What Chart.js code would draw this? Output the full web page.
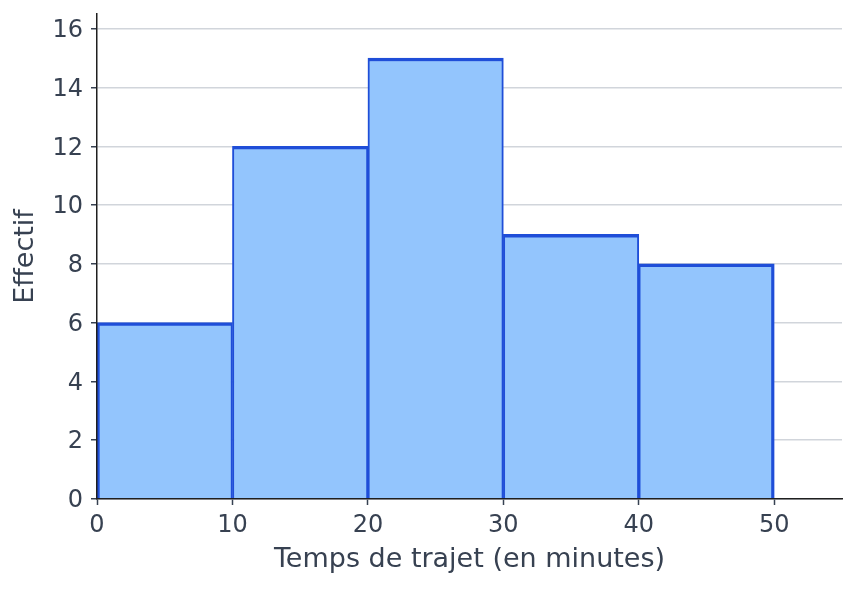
<!DOCTYPE html>
<html>
<head>
<meta charset="utf-8">
<script src="https://cdn.jsdelivr.net/npm/chart.js@4.4.1/dist/chart.umd.min.js"></script>
<style>
html,body{margin:0;padding:0;background:#fff;}
#wrap{width:856px;height:590px;}
</style>
</head>
<body>
<div id="wrap"><canvas id="c" width="856" height="590"></canvas></div>
<script>
const binEdges = [0, 10, 20, 30, 40, 50];
const categories = ['0–10', '10–20', '20–30', '30–40', '40–50'];
const counts = [6, 12, 15, 9, 8];
const xTicks = [0, 10, 20, 30, 40, 50];
const yTicks = [0, 2, 4, 6, 8, 10, 12, 14, 16];

const points = counts.map((v, i) => ({ x: (binEdges[i] + binEdges[i + 1]) / 2, y: v, label: categories[i] }));
const textColor = '#374151';
const FONT = "'DejaVu Sans', sans-serif";

new Chart(document.getElementById('c'), {
  type: 'bar',
  data: {
    datasets: [{
      label: 'Effectif',
      data: points,
      backgroundColor: '#93c5fd',
      borderColor: '#1f4ed8',
      borderSkipped: false,
      borderWidth: (ctx) => ({
        top: 3.4,
        bottom: 0,
        left: ctx.dataIndex === 0 ? 3 : 2,
        right: ctx.dataIndex === counts.length - 1 ? 3.4 : 2
      }),
      barPercentage: 1,
      categoryPercentage: 1
    }]
  },
  options: {
    responsive: false,
    animation: false,
    devicePixelRatio: 1,
    layout: { padding: { top: 14, right: 14, left: 0, bottom: 0 } },
    plugins: { legend: { display: false }, tooltip: { enabled: false } },
    scales: {
      x: {
        type: 'linear',
        min: 0,
        max: 55,
        offset: false,
        afterFit: (s) => { s.height = 91; s.paddingLeft = 0; s.paddingRight = 0; },
        afterBuildTicks: (s) => { s.ticks = xTicks.map(v => ({ value: v })); },
        ticks: { color: textColor, font: { family: FONT, size: 24 }, padding: 6, maxRotation: 0 },
        grid: { offset: false, drawOnChartArea: false, drawTicks: true, tickLength: 6, tickColor: textColor, tickWidth: 1.5 },
        border: { display: true, color: '#1f1f1f', width: 1.5, z: 1 },
        title: { display: true, text: 'Temps de trajet (en minutes)', color: textColor, font: { family: FONT, size: 27 }, padding: { top: 4, bottom: 14 } }
      },
      y: {
        type: 'linear',
        min: 0,
        max: 16.5,
        afterFit: (s) => { s.width = 97; s.paddingTop = 0; s.paddingBottom = 0; },
        afterBuildTicks: (s) => { s.ticks = yTicks.map(v => ({ value: v })); },
        ticks: { color: textColor, font: { family: FONT, size: 24 }, padding: 8, labelOffset: 2 },
        grid: { color: '#d1d5db', lineWidth: 1.5, tickLength: 6, tickColor: textColor, tickWidth: 1.5 },
        border: { display: true, color: '#1f1f1f', width: 1.5, z: 1 },
        title: { display: true, text: 'Effectif', color: textColor, font: { family: FONT, size: 27 }, padding: { top: 10, bottom: 4 } }
      }
    }
  }
});
</script>
</body>
</html>
